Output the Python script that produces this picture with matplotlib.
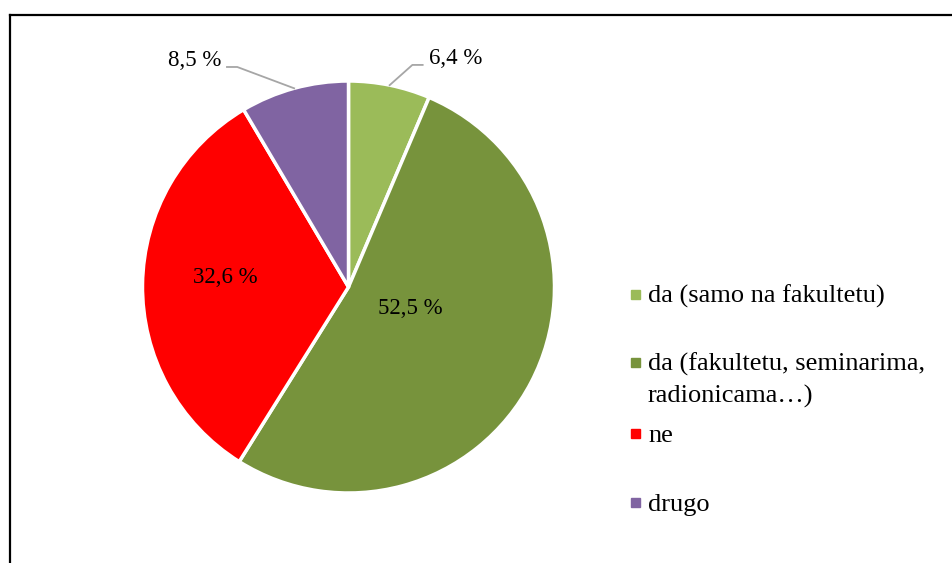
import numpy as np
import matplotlib.pyplot as plt
from matplotlib.lines import Line2D
from matplotlib.patches import Rectangle

plt.rcParams['font.family'] = ['Liberation Serif', 'DejaVu Serif']

categories = ['da (samo na fakultetu)',
              'da (fakultetu, seminarima,\nradionicama…)',
              'ne',
              'drugo']
values = [6.4, 52.5, 32.6, 8.5]
colors = ['#9BBB59', '#77933C', '#FF0000', '#8064A2']

W, H = 953, 563
fig = plt.figure(figsize=(W / 100, H / 100), dpi=100)

# pie centre ~(348.5, 287) px, radius ~206 px
cx, cy, r = 348.5, 287, 206
ax = fig.add_axes([(cx - r) / W, (H - cy - r) / H, 2 * r / W, 2 * r / H])
wedges, _ = ax.pie(values, colors=colors, startangle=90, counterclock=False,
                   wedgeprops=dict(edgecolor='white', linewidth=2.5))
ax.set_xlim(-1, 1)
ax.set_ylim(-1, 1)

labels = [f'{v:.1f} %'.replace('.', ',') for v in values]
mids = [np.deg2rad((w.theta1 + w.theta2) / 2) for w in wedges]

# inner labels
ax.text(0.30, -0.105, labels[1], ha='center', va='center', fontsize=16.5)
ax.text(-0.60, 0.045, labels[2], ha='center', va='center', fontsize=16.5)

# outer labels with leader lines
a = mids[0]
ax.plot([np.cos(a), 0.31, 0.36], [np.sin(a), 1.078, 1.078],
        color='#A6A6A6', lw=1.3, clip_on=False)
ax.text(0.39, 1.11, labels[0], ha='left', va='center', fontsize=16.5)

a = mids[3]
ax.plot([np.cos(a), -0.54, -0.59], [np.sin(a), 1.068, 1.068],
        color='#A6A6A6', lw=1.3, clip_on=False)
ax.text(-0.615, 1.10, labels[3], ha='right', va='center', fontsize=16.5)

# legend drawn by hand to follow the original layout
marker_y = [294, 362.5, 433, 502.5]
for lab, col, my in zip(categories, colors, marker_y):
    fig.add_artist(Rectangle((631 / W, 1 - (my + 4.5) / H), 9 / W, 9 / H,
                             transform=fig.transFigure, color=col))
    for i, line in enumerate(lab.split('\n')):
        fig.text(648 / W, 1 - (my + 8.5 + 32 * i) / H, line,
                 ha='left', va='baseline', fontsize=19)

# frame (top and left edges visible)
fig.add_artist(Line2D([10 / W, 953 / W], [1 - 14.5 / H, 1 - 14.5 / H],
                      color='black', lw=1.6, transform=fig.transFigure))
fig.add_artist(Line2D([10 / W, 10 / W], [1 - 14.5 / H, 0],
                      color='black', lw=1.6, transform=fig.transFigure))

fig.savefig('out.png', dpi=100)
